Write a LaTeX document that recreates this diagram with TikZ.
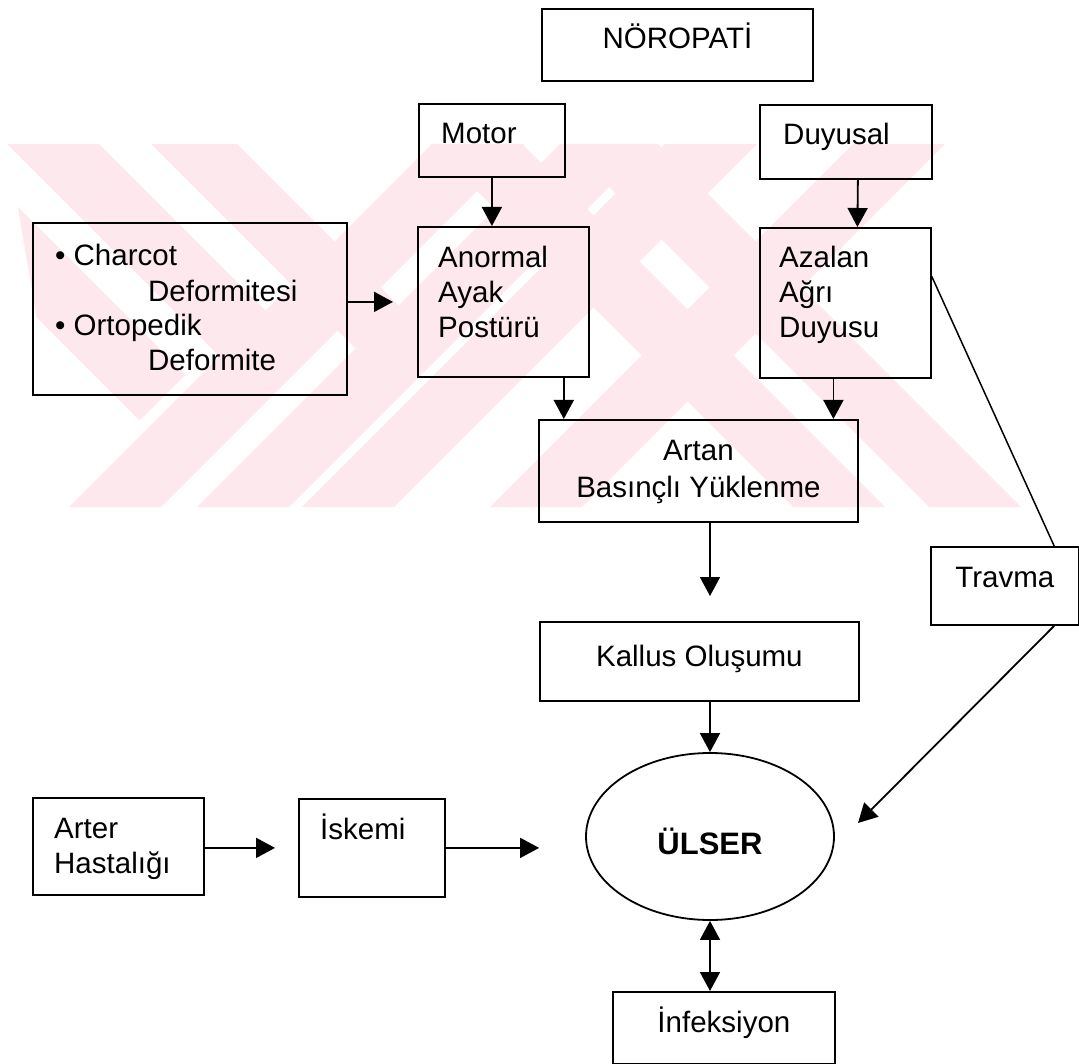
\documentclass[tikz,border=0pt]{standalone}
\usepackage{fontspec}
\setmainfont{Liberation Sans}
\usetikzlibrary{arrows.meta}
\usetikzlibrary{positioning}
\usetikzlibrary{shapes.geometric}
\definecolor{pembe}{RGB}{253,233,237}
\newcommand{\semafont}{\fontsize{29.5}{35}\selectfont}
\tikzset{
	>={Triangle[length=19pt,width=20pt]},
	kutu/.style={
		draw, line width=1.8pt,
		rectangle,
		inner sep=0pt,
		anchor=north west},
	yazi/.style={
		anchor=base west,
		inner sep=0pt,
		align=left,
		font=\semafont,
		xshift=22pt, yshift=-41pt},
	ortayazi/.style={
		anchor=base,
		inner sep=0pt,
		align=center,
		font=\semafont,
		yshift=-41pt},
	ok/.style={->, line width=1.8pt},
	cizgi/.style={line width=1.5pt},
}

\begin{document}
\begin{tikzpicture}[x=1pt,y=-1pt]
	\useasboundingbox (0,0) rectangle (1079,1064);
	% filigran
	\begin{scope}
		\clip (7,144) -- (945,144) -- (1021,507) -- (69,507) -- cycle;
		\fill[pembe] (-137,144) -- (-45,144) -- (185.5,374.5) -- (139.5,420.5) -- cycle;
		\fill[pembe] (7,144) -- (99,144) -- (311,356) -- (265,402) -- cycle;
		\fill[pembe] (151,144) -- (237,144) -- (443.5,350.5) -- (400.5,393.5) -- cycle;
		\foreach \a in {430,566}
			\fill[pembe] (\a,144) -- ++(92,0) -- ++(363,363) -- ++(-92,0) -- cycle;
		\foreach \a in {432,560,665,853}
			\fill[pembe] (\a,144) -- ++(92,0) -- ++(-363,363) -- ++(-92,0) -- cycle;
	\end{scope}

	% kutular
	\node[kutu, minimum width=271pt, minimum height=72pt] (noropati) at (541,8) {};
	\node[kutu, minimum width=146pt, minimum height=73pt] (motor) at (418,103) {};
	\node[kutu, minimum width=172pt, minimum height=74pt] (duyusal) at (759,104) {};
	\node[kutu, minimum width=314pt, minimum height=172pt] (charcot) at (32,222) {};
	\node[kutu, minimum width=171pt, minimum height=150pt] (anormal) at (417,226) {};
	\node[kutu, minimum width=171pt, minimum height=150pt] (azalan) at (759,227) {};
	\node[kutu, minimum width=319pt, minimum height=102pt] (artan) at (538,419) {};
	\node[kutu, minimum width=148pt, minimum height=78pt] (travma) at (930,546) {};
	\node[kutu, minimum width=319pt, minimum height=79pt] (kallus) at (539,621) {};
	\node[kutu, minimum width=171pt, minimum height=97pt] (arter) at (32,797) {};
	\node[kutu, minimum width=146pt, minimum height=98pt] (iskemi) at (298,798) {};
	\node[kutu, minimum width=222pt, minimum height=72pt] (infeksiyon) at (612,991) {};
	\node[draw, line width=1.8pt, ellipse, inner sep=0pt,
		minimum width=248pt, minimum height=167pt] (ulser) at (710,836.5) {};

	% yazilar
	\node[ortayazi] (noropatiyazi) at (noropati.north) {NÖROPATİ};
	\node[yazi, xshift=1pt] (motoryazi) at (motor.north west) {Motor};
	\node[yazi, xshift=2pt] (duyusalyazi) at (duyusal.north west) {Duyusal};
	\node[yazi, xshift=1pt, yshift=-108pt] (charcotyazi) at (charcot.north west)
		{• Charcot\\\hspace*{93pt}Deformitesi\\• Ortopedik\\\hspace*{93pt}Deformite};
	\node[yazi, xshift=-1pt, yshift=-71pt] (anormalyazi) at (anormal.north west) {Anormal\\Ayak\\Postürü};
	\node[yazi, xshift=-2pt, yshift=-70pt] (azalanyazi) at (azalan.north west) {Azalan\\Ağrı\\Duyusu};
	\node[ortayazi, font=\fontsize{29.5}{37}\selectfont, yshift=-37pt] (artanyazi) at (artan.north) {Artan\\Basınçlı Yüklenme};
	\node[ortayazi] (travmayazi) at (travma.north) {Travma};
	\node[ortayazi, yshift=-4pt] (kallusyazi) at (kallus.north) {Kallus Oluşumu};
	\node[yazi, yshift=-35pt] (arteryazi) at (arter.north west) {Arter\\Hastalığı};
	\node[yazi] (iskemiyazi) at (iskemi.north west) {İskemi};
	\node[ortayazi] (infeksiyonyazi) at (infeksiyon.north) {İnfeksiyon};
	\node[inner sep=0pt, font=\fontsize{31}{36}\selectfont\bfseries, yshift=-5pt] (ulseryazi) at (ulser) {ÜLSER};

	% oklar
	\draw[ok] (motor.south) -- (motor.south |- anormal.north);
	\draw[ok] ([xshift=12pt]duyusal.south) -- ([xshift=12pt]azalan.north);
	\draw[ok, shorten >=24pt] (charcot.east |- anormal.west) -- (anormal.west);
	\draw[ok] ([xshift=-26pt]anormal.south east) -- ([xshift=-26pt]anormal.south east |- artan.north);
	\draw[ok] ([xshift=-12pt]azalan.south) -- ([xshift=-12pt]azalan.south |- artan.north);
	\draw[ok, shorten >=25pt] (ulser |- artan.south) -- (ulser |- kallus.north);
	\draw[ok] (ulser |- kallus.south) -- (ulser.north);
	\draw[cizgi] (azalan.17) -- (travma.39);
	\coordinate (travmaucu) at (858,823);
	\draw[ok] (travma.-39) -- (travmaucu);
	\draw[ok, shorten >=23pt] (arter.east |- iskemi.west) -- (iskemi.west);
	\draw[ok, shorten >=46pt] (iskemi.east) -- (iskemi.east -| ulser.west);
	\draw[ok, <->] (ulser.south) -- (ulser.south |- infeksiyon.north);
\end{tikzpicture}
\end{document}
